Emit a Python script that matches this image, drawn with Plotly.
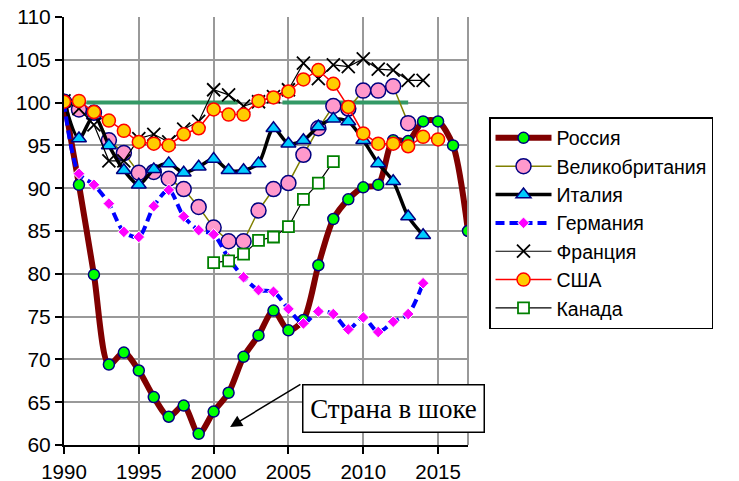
import plotly.graph_objects as go

years_russia = list(range(1990, 2018))
russia = [100.3, 90.4, 79.9, 69.4, 70.8, 68.7, 65.6, 63.3, 64.6, 61.3, 63.9, 66.1, 70.3, 72.8,
          75.7, 73.4, 74.6, 81.0, 86.4, 88.7, 90.1, 90.4, 95.6, 95.5, 97.8, 97.8, 95.0, 85.0]

years_uk = list(range(1990, 2014))
uk = [100.1, 99.2, 98.8, 95.6, 94.1, 91.8, 91.9, 91.1, 89.9, 87.8, 85.4, 83.8, 83.8, 87.4,
      89.9, 90.6, 93.9, 97.0, 99.6, 99.3, 101.4, 101.4, 101.9, 97.6]

years_italy = list(range(1990, 2015))
italy = [100.2, 95.8, 98.5, 95.0, 92.1, 90.4, 92.2, 92.9, 91.8, 92.5, 93.4, 92.1, 92.1, 92.9,
         97.0, 95.2, 95.6, 97.2, 98.1, 97.8, 95.6, 92.9, 90.8, 86.7, 84.5]

years_germany = list(range(1990, 2015))
germany = [100.0, 91.7, 90.4, 88.2, 84.9, 84.3, 87.9, 89.8, 86.7, 85.1, 84.6, 81.8, 79.6, 78.1,
           77.9, 75.9, 74.2, 75.6, 75.3, 73.5, 74.9, 73.2, 74.4, 75.3, 78.9]

years_france = list(range(1990, 2015))
france = [100.2, 99.3, 97.4, 93.2, 93.2, 95.8, 96.3, 95.4, 96.9, 97.8, 101.5, 100.9, 99.6, 100.1,
          100.7, 101.5, 104.6, 102.8, 104.4, 104.2, 105.1, 103.9, 103.8, 102.6, 102.6]

years_usa = list(range(1990, 2016))
usa = [100.1, 100.2, 98.9, 97.9, 96.7, 95.4, 95.2, 95.0, 96.3, 97.0, 99.2, 98.6, 98.6, 100.2,
       100.6, 101.3, 102.7, 103.8, 102.2, 99.5, 96.4, 95.2, 95.2, 94.9, 96.0, 95.7]

years_canada = list(range(2000, 2009))
canada = [81.3, 81.5, 82.3, 83.9, 84.3, 85.5, 88.7, 90.6, 93.1]

ref_x = [1991.5, 2001.6, None, 2004.6, 2013.0]
ref_y = [100, 100, None, 100, 100]

x_ticks = [1990, 1995, 2000, 2005, 2010, 2015]
y_ticks = [60, 65, 70, 75, 80, 85, 90, 95, 100, 105, 110]

note_text = "Страна в шоке"
note_pos = (2012.0, 64.3)
arrow_head = (2001.1, 62.1)
arrow_tail = (2005.9, 67.2)

NAVY = "#000080"

fig = go.Figure()

fig.add_trace(go.Scatter(x=ref_x, y=ref_y, mode="lines", showlegend=False,
                         line=dict(color="#339966", width=4), hoverinfo="skip"))

fig.add_trace(go.Scatter(x=years_russia, y=russia, name="Россия", mode="lines+markers",
                         line=dict(color="#800000", width=6, shape="spline", smoothing=0.8),
                         marker=dict(symbol="circle", size=11, color="#00FF00",
                                     line=dict(color=NAVY, width=1.5))))
fig.add_trace(go.Scatter(x=years_uk, y=uk, name="Великобритания", mode="lines+markers",
                         line=dict(color="#808000", width=1.5),
                         marker=dict(symbol="circle", size=15, color="#FF99CC",
                                     line=dict(color=NAVY, width=1.5))))
fig.add_trace(go.Scatter(x=years_italy, y=italy, name="Италия", mode="lines+markers",
                         line=dict(color="black", width=3.5, shape="spline", smoothing=0.8),
                         marker=dict(symbol="triangle-up", size=13, color="#00CCFF",
                                     line=dict(color=NAVY, width=1.5))))
fig.add_trace(go.Scatter(x=years_germany, y=germany, name="Германия", mode="lines+markers",
                         line=dict(color="#0000FF", width=4, dash="9px,5px", shape="spline", smoothing=0.8),
                         marker=dict(symbol="diamond", size=9, color="#FF00FF",
                                     line=dict(color="white", width=1))))
fig.add_trace(go.Scatter(x=years_france, y=france, name="Франция", mode="lines+markers",
                         line=dict(color="black", width=1.2),
                         marker=dict(symbol="x-thin-open", size=13, color="black",
                                     line=dict(color="black", width=1.8))))
fig.add_trace(go.Scatter(x=years_usa, y=usa, name="США", mode="lines+markers",
                         line=dict(color="#FF0000", width=1.5),
                         marker=dict(symbol="circle", size=13, color="#FFCC00",
                                     line=dict(color="#FF0000", width=1.5))))
fig.add_trace(go.Scatter(x=years_canada, y=canada, name="Канада", mode="lines+markers",
                         line=dict(color="black", width=1.2),
                         marker=dict(symbol="square", size=11, color="white",
                                     line=dict(color="#008000", width=1.8))))

fig.add_annotation(x=note_pos[0], y=note_pos[1], xref="x", yref="y", text=note_text,
                   showarrow=False, font=dict(family="Liberation Serif", size=27, color="black"),
                   bgcolor="white", bordercolor="black", borderwidth=1.5,
                   width=176, height=42, borderpad=2)
fig.add_annotation(x=arrow_head[0], y=arrow_head[1], ax=arrow_tail[0], ay=arrow_tail[1],
                   xref="x", yref="y", axref="x", ayref="y", text="", showarrow=True,
                   arrowhead=2, arrowsize=1.6, arrowwidth=1.5, arrowcolor="black")

fig.add_shape(type="line", xref="paper", yref="paper", x0=1, x1=1, y0=0, y1=1,
              line=dict(color="#999999", width=2))

# page body has an 8px default margin, so the figure is offset by 8px
fig.update_layout(
    width=731, height=473,
    margin=dict(l=56, r=271, t=9, b=36, autoexpand=False),
    paper_bgcolor="white", plot_bgcolor="white",
    font=dict(family="Liberation Sans, Arial", size=21, color="black"),
    legend=dict(x=1.052, y=0.766, xanchor="left", yanchor="top",
                bordercolor="black", borderwidth=1.5, bgcolor="white",
                font=dict(size=19.5), itemwidth=56, traceorder="normal"),
)
fig.update_xaxes(range=[1990, 2017], tickvals=x_ticks, showgrid=True, gridcolor="#999999",
                 gridwidth=2, showline=True, linecolor="black", linewidth=2,
                 ticks="outside", ticklen=7, tickcolor="black", tickwidth=2, zeroline=False,
                 automargin=False, ticklabeloverflow="allow", tickfont=dict(size=20.5))
fig.update_yaxes(range=[60, 110], tickvals=y_ticks, showgrid=True, gridcolor="#999999",
                 gridwidth=2, showline=True, linecolor="black", linewidth=2,
                 ticks="outside", ticklen=7, tickcolor="black", tickwidth=2, zeroline=False,
                 automargin=False, ticklabeloverflow="allow")

fig.write_html("out.html")
